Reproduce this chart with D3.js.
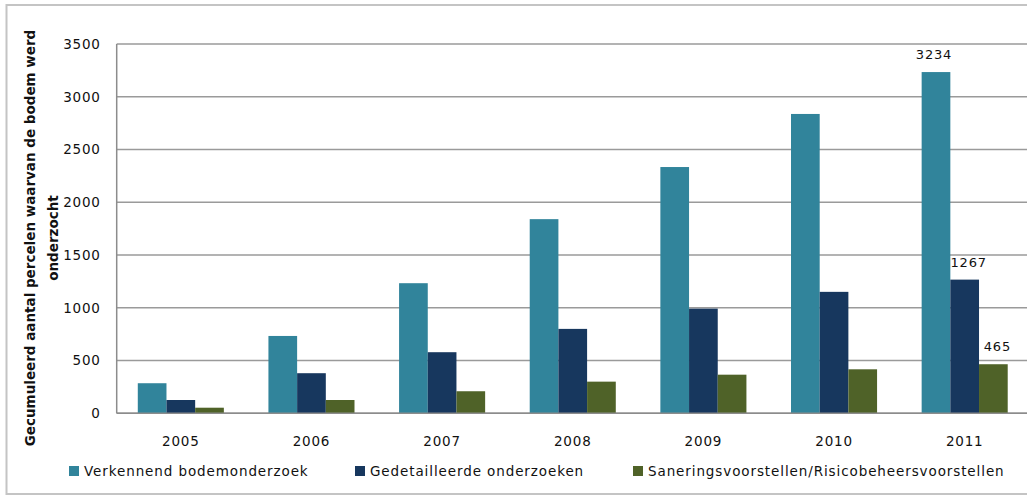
<!DOCTYPE html>
<html>
<head>
<meta charset="utf-8">
<script src="https://cdn.jsdelivr.net/npm/d3@7"></script>
<style>
  body { margin: 0; background: #fff; }
  svg text { font-family: "DejaVu Sans", sans-serif; fill: #111; }
</style>
</head>
<body>
<div id="chart"></div>
<script>
// chart data
var years = ['2005', '2006', '2007', '2008', '2009', '2010', '2011'];
var verkennend = [285, 733, 1233, 1840, 2334, 2837, 3234];
var gedetailleerd = [126, 380, 579, 800, 992, 1151, 1267];
var sanering = [53, 126, 209, 300, 366, 417, 465];
var seriesNames = ['Verkennend bodemonderzoek', 'Gedetailleerde onderzoeken', 'Saneringsvoorstellen/Risicobeheersvoorstellen'];
var yTicks = [0, 500, 1000, 1500, 2000, 2500, 3000, 3500];

var colors = ['#31849B', '#17375E', '#4F6228'];
var seriesValues = [verkennend, gedetailleerd, sanering];

var W = 1027, H = 495;
var plotLeft = 115.5, plotRight = 1030, plotTop = 44, plotBottom = 413.3;

var svg = d3.select('#chart').append('svg')
  .attr('width', W)
  .attr('height', H);

// outer frame
svg.append('rect')
  .attr('x', 6.5).attr('y', 5)
  .attr('width', W + 10).attr('height', 489)
  .attr('fill', 'none')
  .attr('stroke', '#c4c4c4')
  .attr('stroke-width', 2);

var x = d3.scaleBand().domain(years).range([plotLeft, plotRight]).padding(0);
var xs = d3.scaleBand().domain(d3.range(3)).range([0, x.bandwidth()]).paddingInner(0).paddingOuter(0.777);
var y = d3.scaleLinear().domain([0, 3500]).range([plotBottom, plotTop]);

// gridlines
svg.append('g')
  .selectAll('line')
  .data(yTicks)
  .enter().append('line')
  .attr('x1', 116.7).attr('x2', W)
  .attr('y1', d => y(d)).attr('y2', d => y(d))
  .attr('stroke', '#9a9a9a')
  .attr('stroke-width', 1.5);

// y axis line
svg.append('line')
  .attr('x1', 116.7).attr('x2', 116.7)
  .attr('y1', plotTop).attr('y2', plotBottom)
  .attr('stroke', '#8c8c8c')
  .attr('stroke-width', 1.5);

// y tick labels
var yAxis = d3.axisLeft(y).tickValues(yTicks).tickFormat(d3.format('d')).tickSize(0).tickPadding(16);
var gy = svg.append('g')
  .attr('transform', 'translate(116.7,0)')
  .call(yAxis);
gy.select('.domain').remove();
gy.selectAll('text')
  .style('font-size', '13.5px')
  .style('letter-spacing', '0.8px')
  .style('font-family', '"DejaVu Sans", sans-serif')
  .attr('fill', '#111');

// bars
var groups = svg.append('g').selectAll('g')
  .data(years)
  .enter().append('g')
  .attr('transform', d => 'translate(' + x(d) + ',0)');

groups.selectAll('rect')
  .data((d, i) => seriesValues.map((s, k) => ({ k: k, v: s[i] })))
  .enter().append('rect')
  .attr('x', d => xs(d.k))
  .attr('width', xs.bandwidth())
  .attr('y', d => y(d.v))
  .attr('height', d => plotBottom - y(d.v))
  .attr('fill', d => colors[d.k]);

// x axis baseline
svg.append('line')
  .attr('x1', 116.7).attr('x2', W)
  .attr('y1', plotBottom).attr('y2', plotBottom)
  .attr('stroke', '#8c8c8c')
  .attr('stroke-width', 1.5);

// x tick labels
var xAxis = d3.axisBottom(x).tickSize(0).tickPadding(23);
var gx = svg.append('g')
  .attr('transform', 'translate(0,' + plotBottom + ')')
  .call(xAxis);
gx.select('.domain').remove();
gx.selectAll('text')
  .style('font-size', '13.5px')
  .style('letter-spacing', '0.8px')
  .style('font-family', '"DejaVu Sans", sans-serif')
  .attr('fill', '#111');

// value labels on the last year
var last = years.length - 1;
seriesValues.forEach(function (s, k) {
  svg.append('text')
    .attr('x', x(years[last]) + xs(k) + xs.bandwidth() / 2 + (k === 0 ? -2 : 4))
    .attr('y', y(s[last]) - 13)
    .attr('text-anchor', 'middle')
    .style('font-size', '13px')
    .style('letter-spacing', '0.8px')
    .text(s[last]);
});

// y axis title
var title = svg.append('text')
  .attr('transform', 'translate(30,238) rotate(-90)')
  .attr('text-anchor', 'middle')
  .style('font-size', '13.5px')
  .style('letter-spacing', '0px')
  .style('font-weight', 'bold');
title.append('tspan').attr('x', 0).attr('dy', '0.35em').text('Gecumuleerd aantal percelen waarvan de bodem werd');
title.append('tspan').attr('x', 0).attr('dy', '1.7em').text('onderzocht');

// legend
var legendX = [69, 355, 633];
var legend = svg.append('g').selectAll('g')
  .data(seriesNames)
  .enter().append('g')
  .attr('transform', (d, i) => 'translate(' + legendX[i] + ',471)');
legend.append('rect')
  .attr('x', 0).attr('y', -5)
  .attr('width', 10).attr('height', 10)
  .attr('fill', (d, i) => colors[i]);
legend.append('text')
  .attr('x', 15).attr('dy', '0.35em')
  .style('font-size', '13.5px')
  .style('letter-spacing', '0.9px')
  .text(d => d);
</script>
</body>
</html>
